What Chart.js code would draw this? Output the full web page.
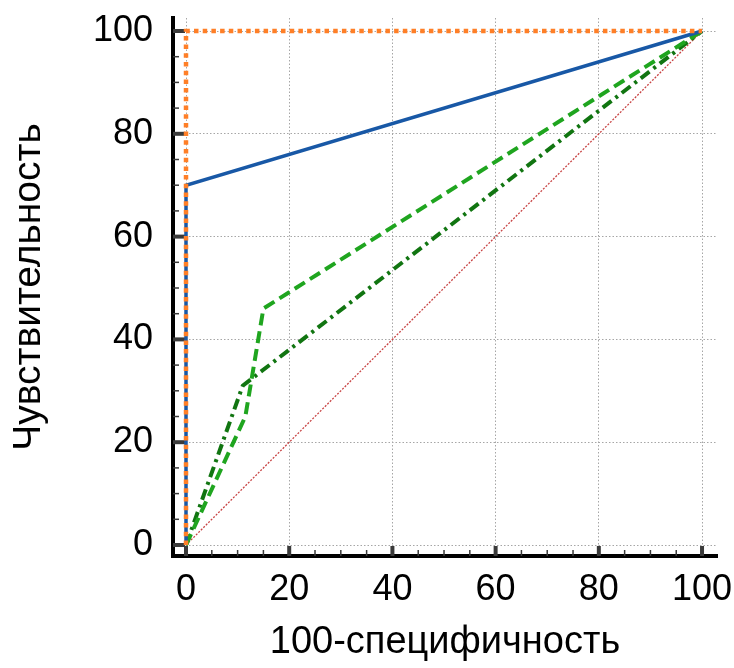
<!DOCTYPE html>
<html>
<head>
<meta charset="utf-8">
<script src="https://cdn.jsdelivr.net/npm/chart.js@4/dist/chart.umd.min.js"></script>
<style>
  html, body { margin: 0; padding: 0; background: #ffffff; }
  #wrap { width: 734px; height: 668px; }
</style>
</head>
<body>
<div id="wrap"><canvas id="roc" width="734" height="668"></canvas></div>
<script>
// ROC curves: sensitivity vs 100-specificity
const tickValues = [0, 20, 40, 60, 80, 100];
const minorValues = [5, 10, 15, 25, 30, 35, 45, 50, 55, 65, 70, 75, 85, 90, 95];

const blueX = [0, 0, 100];
const blueY = [0, 70, 100];

const orangeX = [0, 0, 100];
const orangeY = [0, 100, 100];

const dashX = [0, 11.5, 15, 100];
const dashY = [0, 25, 46, 100];

const dashDotX = [0, 11, 100];
const dashDotY = [0, 31, 100];

const chanceX = [0, 100];
const chanceY = [0, 100];

const toPoints = (xs, ys) => xs.map((x, i) => ({ x: x, y: ys[i] }));

const FONT = "'Liberation Sans', Arial, sans-serif";

// fixed box sizes; no extra room reserved for edge labels
const fixBox = size => s => {
  if (s.isHorizontal()) { s.height = size; } else { s.width = size; }
  s.paddingTop = 0; s.paddingBottom = 0; s.paddingLeft = 0; s.paddingRight = 0;
};

// Inward major/minor tick marks between the offset axis lines and the plot
const axisTicks = {
  id: 'axisTicks',
  beforeDatasetsDraw(chart) {
    const { ctx, chartArea, scales } = chart;
    const xs = scales.x, ys = scales.y;
    const x0 = xs.getPixelForValue(0);
    const y0 = ys.getPixelForValue(0);
    ctx.save();
    ctx.strokeStyle = '#3a3a3a';
    ctx.lineCap = 'butt';
    // minor ticks
    ctx.lineWidth = 1.5;
    minorValues.forEach(v => {
      const py = ys.getPixelForValue(v);
      ctx.beginPath(); ctx.moveTo(chartArea.left, py); ctx.lineTo(chartArea.left + 6, py); ctx.stroke();
      const px = xs.getPixelForValue(v);
      ctx.beginPath(); ctx.moveTo(px, chartArea.bottom); ctx.lineTo(px, chartArea.bottom - 6); ctx.stroke();
    });
    // major ticks
    ctx.lineWidth = 4;
    tickValues.forEach(v => {
      const py = ys.getPixelForValue(v);
      ctx.beginPath(); ctx.moveTo(chartArea.left, py); ctx.lineTo(x0 - 1, py); ctx.stroke();
      const px = xs.getPixelForValue(v);
      ctx.beginPath(); ctx.moveTo(px, chartArea.bottom); ctx.lineTo(px, y0 + 1); ctx.stroke();
    });
    ctx.restore();
  }
};

const whiteBg = {
  id: 'whiteBg',
  beforeDraw(chart) {
    const { ctx, width, height } = chart;
    ctx.save();
    ctx.fillStyle = '#ffffff';
    ctx.fillRect(0, 0, width, height);
    ctx.restore();
  }
};

new Chart(document.getElementById('roc'), {
  type: 'line',
  data: {
    datasets: [
      {
        data: toPoints(orangeX, orangeY),
        borderColor: '#ff7f27', borderWidth: 4.5, borderDash: [4.5, 4.2],
        borderCapStyle: 'butt', order: 0
      },
      {
        data: toPoints(blueX, blueY),
        borderColor: '#1858a6', borderWidth: 3.5, order: 1
      },
      {
        data: toPoints(dashX, dashY),
        borderColor: '#1fa51f', borderWidth: 4, borderDash: [12, 6], order: 2
      },
      {
        data: toPoints(dashDotX, dashDotY),
        borderColor: '#117511', borderWidth: 4, borderDash: [11, 5, 3, 5], order: 3
      },
      {
        data: toPoints(chanceX, chanceY),
        borderColor: '#c84444', borderWidth: 1.3, borderDash: [2, 1.5], order: 4
      }
    ]
  },
  options: {
    responsive: false,
    animation: false,
    events: [],
    elements: { point: { radius: 0 }, line: { tension: 0 } },
    layout: { autoPadding: false, padding: { top: 18, right: 17, left: 0, bottom: 0 } },
    plugins: { legend: { display: false }, tooltip: { enabled: false } },
    scales: {
      x: {
        type: 'linear',
        min: -2.52, max: 102.9,
        afterBuildTicks: s => { s.ticks = tickValues.map(v => ({ value: v })); },
        afterFit: fixBox(112),
        grid: { color: '#a6a6a6', lineWidth: 1, drawTicks: false },
        border: { display: true, color: '#000000', width: 4, dash: [1.5, 2] },
        ticks: { padding: 12, color: '#000000', font: { family: FONT, size: 36 }, maxRotation: 0 },
        title: {
          display: true, text: '100-специфичность', color: '#000000',
          font: { family: FONT, size: 38 }, padding: { top: 0, bottom: 3 }
        }
      },
      y: {
        type: 'linear',
        min: -2.14, max: 102.53,
        afterBuildTicks: s => { s.ticks = tickValues.map(v => ({ value: v })); },
        afterFit: fixBox(173),
        grid: { color: '#a6a6a6', lineWidth: 1, drawTicks: false },
        border: { display: true, color: '#000000', width: 4, dash: [1.5, 2] },
        ticks: { padding: 20, color: '#000000', font: { family: FONT, size: 36 } },
        title: {
          display: true, text: 'Чувствительность', color: '#000000',
          font: { family: FONT, size: 39 }, padding: { top: 6, bottom: 0 }
        }
      }
    }
  },
  plugins: [whiteBg, axisTicks]
});
</script>
</body>
</html>
